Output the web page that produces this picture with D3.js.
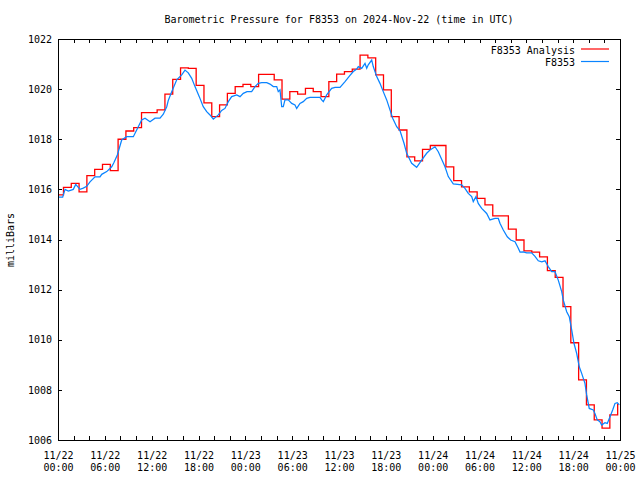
<!DOCTYPE html>
<html>
<head>
<meta charset="utf-8">
<script src="https://cdn.jsdelivr.net/npm/d3@7"></script>
<style>
  html, body { margin: 0; padding: 0; background: #fff; }
  svg { display: block; }
  text { font-family: "DejaVu Sans Mono", "Liberation Mono", monospace; font-size: 10px; fill: #000; }
</style>
</head>
<body>
<svg id="chart" width="640" height="480"></svg>
<script>
// ---------------- DATA ----------------
const chartTitle = "Barometric Pressure for F8353 on 2024-Nov-22 (time in UTC)";
const yAxisLabel = "milliBars";
const seriesNames = ["F8353 Analysis", "F8353"];
const startDay = "2024-11-22T00:00:00Z";
const spanHours = 72;
const yTicks = [1006, 1008, 1010, 1012, 1014, 1016, 1018, 1020, 1022];

// Hourly analysis values (hour 0 .. 72), drawn as steps
const analysisValues = [
  1015.78, 1016.08, 1016.24, 1015.90, 1016.55, 1016.80, 1017.00, 1016.75, 1018.00, 1018.33,
  1018.46, 1019.06, 1019.06, 1019.17, 1019.80, 1020.39, 1020.85, 1020.83, 1020.15, 1019.45,
  1018.90, 1019.37, 1019.83, 1020.10, 1020.19, 1020.10, 1020.59, 1020.59, 1020.37, 1019.60,
  1019.90, 1019.80, 1020.03, 1019.90, 1019.70, 1020.30, 1020.60, 1020.70, 1020.80, 1021.36,
  1021.25, 1020.57, 1019.97, 1018.90, 1018.37, 1017.30, 1017.14, 1017.60, 1017.75, 1017.75,
  1016.90, 1016.35, 1016.10, 1015.90, 1015.64, 1015.38, 1014.94, 1014.94, 1014.41, 1013.98,
  1013.55, 1013.50, 1013.31, 1012.76, 1012.49, 1011.32, 1009.88, 1008.40, 1007.40, 1006.80,
  1006.47, 1007.00, 1007.46
];
const analysisShiftHours = -0.3;

// Observations: hours since start, pressure
const obsHours = [
  0.00, 0.60, 0.90, 1.32, 1.96, 2.27, 2.82, 3.24, 3.68, 4.10,
  4.74, 5.38, 5.60, 6.24, 6.88, 7.17, 7.60, 8.16, 8.80, 9.65,
  10.08, 10.72, 11.15, 11.79, 12.43, 13.07, 13.49, 13.93, 14.13, 14.57,
  15.21, 15.85, 16.27, 16.69, 17.13, 17.55, 18.10, 18.61, 19.05, 19.47,
  19.90, 20.54, 20.97, 21.39, 21.82, 22.25, 22.89, 23.32, 23.74, 24.21,
  24.81, 25.24, 25.66, 26.10, 26.74, 27.16, 27.58, 28.02, 28.22, 28.44,
  28.66, 28.86, 29.08, 29.50, 29.94, 30.36, 30.58, 31.00, 31.42, 31.86,
  32.28, 32.92, 33.56, 33.78, 33.99, 34.42, 35.06, 35.49, 36.13, 36.77,
  37.41, 37.83, 38.27, 38.47, 38.91, 39.33, 39.55, 39.75, 40.19, 40.39,
  40.83, 41.25, 41.67, 42.11, 42.53, 42.88, 43.39, 43.81, 44.33, 44.67,
  45.31, 45.95, 46.59, 47.23, 47.66, 48.30, 48.72, 49.58, 50.00, 50.64,
  51.72, 52.14, 52.56, 53.00, 53.20, 53.55, 53.84, 54.28, 54.92, 55.34,
  55.98, 56.41, 56.62, 57.05, 57.56, 57.99, 58.55, 58.97, 59.19, 59.61,
  60.04, 60.68, 61.11, 61.53, 61.97, 62.39, 62.81, 63.25, 63.67, 64.09,
  64.53, 64.73, 65.17, 65.50, 65.81, 66.10, 66.45, 66.78, 67.09, 67.51,
  67.73, 68.06, 68.58, 68.79, 69.09, 69.43, 69.65, 70.07, 70.37, 70.72,
  71.06, 71.36, 71.65, 71.90
];
const obsValues = [
  1015.69, 1015.69, 1016.00, 1015.93, 1016.00, 1016.20, 1016.00, 1016.05, 1016.12, 1016.30,
  1016.50, 1016.50, 1016.60, 1016.71, 1016.90, 1017.07, 1017.37, 1017.97, 1018.10, 1018.10,
  1018.37, 1018.77, 1018.84, 1018.70, 1018.84, 1018.84, 1019.00, 1019.30, 1019.55, 1019.90,
  1020.37, 1020.57, 1020.76, 1020.65, 1020.43, 1020.10, 1019.70, 1019.30, 1019.10, 1018.97,
  1018.80, 1018.97, 1019.15, 1019.23, 1019.50, 1019.70, 1019.77, 1019.70, 1019.83, 1019.90,
  1019.90, 1020.10, 1020.23, 1020.26, 1020.26, 1020.20, 1020.10, 1020.10, 1019.90, 1019.97,
  1019.30, 1019.30, 1019.57, 1019.57, 1019.43, 1019.37, 1019.23, 1019.43, 1019.50, 1019.63,
  1019.67, 1019.67, 1019.67, 1019.57, 1019.50, 1019.77, 1020.03, 1020.07, 1020.07, 1020.30,
  1020.55, 1020.70, 1020.80, 1020.90, 1020.83, 1021.03, 1020.83, 1020.97, 1021.16, 1020.90,
  1020.50, 1020.23, 1019.90, 1019.57, 1019.17, 1018.84, 1018.50, 1018.35, 1017.84, 1017.44,
  1017.04, 1016.88, 1017.17, 1017.44, 1017.57, 1017.70, 1017.50, 1016.90, 1016.51, 1016.22,
  1016.18, 1016.04, 1015.84, 1015.71, 1015.51, 1015.71, 1015.44, 1015.24, 1015.04, 1014.78,
  1014.84, 1014.84, 1014.65, 1014.38, 1014.11, 1013.98, 1013.91, 1013.65, 1013.50, 1013.51,
  1013.47, 1013.47, 1013.33, 1013.15, 1013.11, 1013.15, 1012.92, 1012.72, 1012.72, 1012.38,
  1011.92, 1011.59, 1011.12, 1010.92, 1010.39, 1009.86, 1009.46, 1008.92, 1008.66, 1008.26,
  1007.80, 1007.26, 1007.20, 1007.06, 1006.80, 1006.73, 1006.60, 1006.69, 1006.66, 1006.93,
  1007.20, 1007.46, 1007.49, 1007.40
];

// ---------------- CHART ----------------
const svg = d3.select("#chart");
const M = { left: 58, right: 620, top: 39, bottom: 440 };
const HOUR = 3600e3;
const t0 = new Date(startDay).getTime();
const toDate = h => new Date(t0 + h * HOUR);

const x = d3.scaleUtc().domain([toDate(0), toDate(spanHours)]).range([M.left, M.right]);
const y = d3.scaleLinear().domain([yTicks[0], yTicks[yTicks.length - 1]]).range([M.bottom, M.top]);

svg.append("rect").attr("width", 640).attr("height", 480).attr("fill", "#fff");

svg.append("clipPath").attr("id", "clip").append("rect")
  .attr("x", M.left).attr("y", M.top).attr("width", M.right - M.left).attr("height", M.bottom - M.top);

const TICK = 4;
function styleAxis(g) {
  g.select(".domain").remove();
  g.selectAll("line").attr("stroke", "#000").attr("shape-rendering", "crispEdges");
  g.selectAll("text").attr("font-family", "DejaVu Sans Mono, monospace").attr("font-size", 10).attr("fill", "#000");
}

// minor x ticks every 2 hours (bottom and top)
const minorTicks = x.ticks(d3.utcHour.every(2));
svg.append("g").attr("transform", `translate(0,${M.bottom})`)
  .call(d3.axisBottom(x).tickValues(minorTicks).tickSize(-TICK).tickFormat(""))
  .call(styleAxis);
svg.append("g").attr("transform", `translate(0,${M.top})`)
  .call(d3.axisTop(x).tickValues(minorTicks).tickSize(-TICK).tickFormat(""))
  .call(styleAxis);

// major x labels every 6 hours
const majorTicks = x.ticks(d3.utcHour.every(6));
const fmtDay = d3.utcFormat("%m/%d"), fmtTime = d3.utcFormat("%H:%M");
const xLab = svg.append("g").attr("transform", `translate(0,${M.bottom})`)
  .call(d3.axisBottom(x).tickValues(majorTicks).tickSize(-TICK).tickPadding(0).tickFormat(""))
  .call(styleAxis);
xLab.selectAll(".tick text").remove();
xLab.selectAll(".tick").append("text")
  .attr("text-anchor", "middle")
  .each(function(d) {
    const t = d3.select(this);
    t.append("tspan").attr("x", 0).attr("y", 19).text(fmtDay(d));
    t.append("tspan").attr("x", 0).attr("y", 31).text(fmtTime(d));
  });

// y axes
svg.append("g").attr("transform", `translate(${M.left},0)`)
  .call(d3.axisLeft(y).tickValues(yTicks).tickSize(-TICK).tickPadding(6).tickFormat(d3.format("d")))
  .call(styleAxis);
svg.append("g").attr("transform", `translate(${M.right},0)`)
  .call(d3.axisRight(y).tickValues(yTicks).tickSize(-TICK).tickFormat(""))
  .call(styleAxis);

// series
const plot = svg.append("g").attr("clip-path", "url(#clip)");
const analysisData = analysisValues.map((v, i) => ({ t: toDate(i + analysisShiftHours), v }));
const obsData = obsHours.map((h, i) => ({ t: toDate(h), v: obsValues[i] }));

plot.append("path").datum(analysisData)
  .attr("fill", "none").attr("stroke", "#ff0000").attr("stroke-width", 1.3)
  .attr("d", d3.line().x(d => x(d.t)).y(d => y(d.v)).curve(d3.curveStepAfter));

plot.append("path").datum(obsData)
  .attr("fill", "none").attr("stroke", "#0a84ff").attr("stroke-width", 1.25)
  .attr("d", d3.line().x(d => x(d.t)).y(d => y(d.v)));

// frame
svg.append("rect")
  .attr("x", M.left + 0.5).attr("y", M.top + 0.5)
  .attr("width", M.right - M.left).attr("height", M.bottom - M.top)
  .attr("fill", "none").attr("stroke", "#000").attr("stroke-width", 1)
  .attr("shape-rendering", "crispEdges");

// title
svg.append("text").attr("x", 339).attr("y", 23).attr("text-anchor", "middle").text(chartTitle);

// y label
svg.append("text").attr("transform", "translate(14,240) rotate(-90)")
  .attr("text-anchor", "middle").text(yAxisLabel);

// legend
const legendColors = ["#ff0000", "#0a84ff"];
const leg = svg.append("g");
seriesNames.forEach((name, i) => {
  const ly = 50 + i * 12.5;
  leg.append("text").attr("x", 575).attr("y", ly).attr("dy", "0.35em")
    .attr("text-anchor", "end").text(name);
  leg.append("line").attr("x1", 581).attr("x2", 609).attr("y1", ly - 1).attr("y2", ly - 1)
    .attr("stroke", legendColors[i]).attr("stroke-width", 1.2);
});
</script>
</body>
</html>
